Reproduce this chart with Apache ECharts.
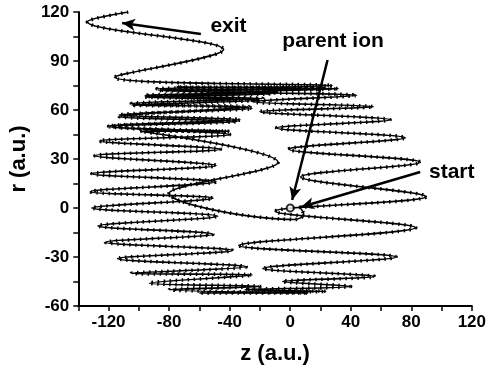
<!DOCTYPE html>
<html lang="en">
<head>
<meta charset="UTF-8">
<title>trajectory</title>
<script src="https://cdn.jsdelivr.net/npm/echarts@6/dist/echarts.min.js"></script>
<style>
  html, body { margin: 0; padding: 0; background: #fff; }
  #main { width: 489px; height: 374px; }
</style>
</head>
<body>
<div id="main"></div>
<script>
// trajectory turning points, [z, r] in a.u.
var startPath = [[6, 1], [9, -4], [3, -7], [-80, 9], [-8, 28], [-99, 47]];
var leftUpper = [[-40, 47], [-120, 50], [-35, 53], [-113, 56], [-27, 62], [-105, 63],
  [-22, 66], [-96, 68], [-12, 70], [-87, 72]];
var topBand = [[22, 73], [-75, 74], [32, 73]];
var rightColumn = [[-28, 71], [44, 69], [-25, 65], [55, 62], [-20, 59], [66, 54], [-9, 49],
  [76, 43], [-1, 36], [86, 28], [7, 19], [90, 7], [-10, -2], [83, -12], [-34, -23], [70, -30],
  [-18, -37], [56, -42], [-5, -45], [40, -48], [-30, -50], [24, -51]];
var bottomBand = [[-60, -52], [12, -52], [-80, -50]];
var leftColumn = [[-20, -48], [-93, -46], [-25, -41], [-105, -40], [-29, -36], [-114, -31],
  [-38, -26], [-122, -21], [-51, -16], [-127, -11], [-48, -5], [-131, 0], [-51, 6], [-132, 10],
  [-49, 16], [-131, 21], [-49, 26], [-129, 32], [-46, 36], [-126, 41], [-40, 45], [-120, 50],
  [-33, 54], [-113, 57], [-25, 61], [-105, 64], [-18, 67], [-96, 69], [-8, 71], [-88, 73]];
var exitPath = [[28, 75], [-116, 80], [-44, 97], [-134, 114], [-107, 120]];
var parentIon = [0, 0];

var xTicks = [-120, -80, -40, 0, 40, 80, 120];
var yTicks = [-60, -30, 0, 30, 60, 90, 120];

// annotation texts, anchored at their left edge in data coords
var notes = [
  { text: 'exit', at: [-52.7, 111.4] },
  { text: 'parent ion', at: [-5.2, 102.2] },
  { text: 'start', at: [91.7, 22] }
];

var trajectory = [].concat(startPath, leftUpper, topBand, rightColumn, bottomBand, leftColumn, exitPath);

var font = 'Liberation Sans';
var chart = echarts.init(document.getElementById('main'));

var option = {
  animation: false,
  backgroundColor: '#fff',
  grid: { left: 77, right: 13, top: 12, bottom: 68 },
  xAxis: {
    type: 'value',
    min: -140, max: 120, interval: 20,
    name: 'z (a.u.)',
    nameLocation: 'middle',
    nameGap: 37,
    nameTextStyle: { fontFamily: font, fontWeight: 'bold', fontSize: 22, color: '#000' },
    axisLine: { onZero: false, lineStyle: { color: '#000', width: 2 } },
    axisTick: { length: 5, lineStyle: { color: '#000', width: 1.5 } },
    axisLabel: {
      fontFamily: font, fontWeight: 'bold', fontSize: 17, color: '#000', margin: 8,
      formatter: function (v) { return xTicks.indexOf(v) >= 0 ? String(v) : ''; }
    },
    splitLine: { show: false }
  },
  yAxis: {
    type: 'value',
    min: -60, max: 120, interval: 15,
    name: 'r (a.u.)',
    nameLocation: 'middle',
    nameGap: 41,
    nameTextStyle: { fontFamily: font, fontWeight: 'bold', fontSize: 22, color: '#000' },
    axisLine: { show: true, onZero: false, lineStyle: { color: '#000', width: 2 } },
    axisTick: { show: true, length: 5, lineStyle: { color: '#000', width: 1.5 } },
    axisLabel: {
      fontFamily: font, fontWeight: 'bold', fontSize: 17, color: '#000', margin: 9,
      formatter: function (v) { return yTicks.indexOf(v) >= 0 ? String(v) : ''; }
    },
    splitLine: { show: false }
  },
  series: [
    {
      name: 'trajectory',
      type: 'line',
      data: trajectory,
      smooth: 0.35,
      showSymbol: false,
      lineStyle: { color: '#000', width: 1.6 },
      z: 2
    },
    {
      // time-step dots along the path
      name: 'steps',
      type: 'line',
      data: trajectory,
      smooth: 0.35,
      showSymbol: false,
      lineStyle: { color: '#000', width: 3.6, type: [1.5, 4.5] },
      z: 3,
      markLine: {
        silent: true,
        symbol: ['none', 'arrow'],
        symbolSize: [9, 13],
        label: { show: false },
        lineStyle: { color: '#000', width: 2.5, type: 'solid' },
        data: [
          [{ coord: [-59, 106.5] }, { coord: [-111, 113.3] }],
          [{ coord: [24.7, 90.6] }, { coord: [1.3, 4.9] }],
          [{ coord: [85.9, 22] }, { coord: [7.2, 0.6] }]
        ]
      }
    },
    {
      name: 'parent ion',
      type: 'scatter',
      data: [parentIon],
      symbol: 'circle',
      symbolSize: 7,
      itemStyle: { color: '#fff', borderColor: '#000', borderWidth: 2 },
      z: 5
    }
  ]
};
chart.setOption(option);

// place the text notes through the chart's own scales
chart.setOption({
  graphic: notes.map(function (n) {
    var p = chart.convertToPixel({ gridIndex: 0 }, n.at);
    return {
      type: 'text',
      x: p[0], y: p[1], z: 10,
      style: {
        text: n.text, fill: '#000',
        font: 'bold 21px "Liberation Sans"',
        textAlign: 'left', textVerticalAlign: 'middle'
      }
    };
  })
});
</script>
</body>
</html>
